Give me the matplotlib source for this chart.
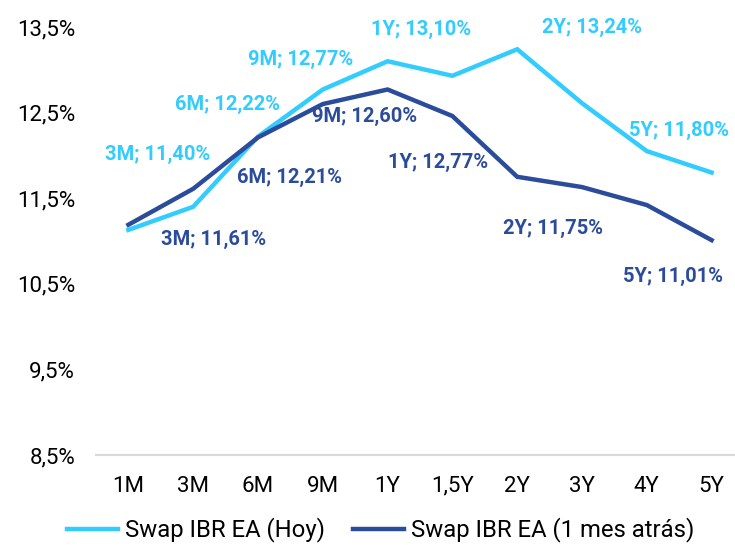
import numpy as np
import matplotlib
matplotlib.use("Agg")
import matplotlib.pyplot as plt

# curva swap IBR: hoy vs un mes atras
plazos = ["1M", "3M", "6M", "9M", "1Y", "1,5Y", "2Y", "3Y", "4Y", "5Y"]
swap_hoy = [11.13, 11.40, 12.22, 12.77, 13.10, 12.93, 13.24, 12.61, 12.05, 11.80]
swap_mes = [11.19, 11.61, 12.21, 12.60, 12.77, 12.46, 11.75, 11.63, 11.42, 11.01]

yticks = [8.5, 9.5, 10.5, 11.5, 12.5, 13.5]

# etiquetas de datos (indice, texto, desplazamiento en pixeles)
etq_hoy = [(1, "3M; 11,40%", (-36, 52)), (2, "6M; 12,22%", (-31, 32)),
           (3, "9M; 12,77%", (-22, 30)), (4, "1Y; 13,10%", (33, 32)),
           (6, "2Y; 13,24%", (75, 22)), (9, "5Y; 11,80%", (-33, 42))]
etq_mes = [(1, "3M; 11,61%", (20, -51)), (2, "6M; 12,21%", (31, -40)),
           (3, "9M; 12,60%", (42, -12)), (4, "1Y; 12,77%", (50, -73)),
           (6, "2Y; 11,75%", (36, -52)), (9, "5Y; 11,01%", (-39, -36))]

c_hoy = "#33CCFF"
c_mes = "#2B4C9B"

plt.rcParams['font.family'] = ['Roboto', 'DejaVu Sans']

fig = plt.figure(figsize=(7.35, 5.46), dpi=100)
ax = fig.add_axes([96/735, 1-455/546, 648/735, 428/546])

x = np.arange(len(plazos))
ax.plot(x, swap_hoy, color=c_hoy, lw=3.2, label="Swap IBR EA (Hoy)", solid_joinstyle="miter")
ax.plot(x, swap_mes, color=c_mes, lw=3.2, label="Swap IBR EA (1 mes atrás)", solid_joinstyle="miter")

for i, t, off in etq_hoy:
	ax.annotate(t, (x[i], swap_hoy[i]), xytext=off, textcoords="offset pixels",
		ha="center", va="center", color=c_hoy, fontsize=14.5, fontweight="bold")
for i, t, off in etq_mes:
	ax.annotate(t, (x[i], swap_mes[i]), xytext=off, textcoords="offset pixels",
		ha="center", va="center", color=c_mes, fontsize=14.5, fontweight="bold")

ax.set_xlim(-0.5, len(plazos)-0.5)
ax.set_ylim(8.5, 13.5)
ax.set_yticks(yticks)
ax.set_yticklabels([("%.1f%%" % v).replace(".", ",") for v in yticks])
ax.set_xticks(x)
ax.set_xticklabels(plazos)
ax.tick_params(axis="y", length=0, pad=15, labelsize=16)
ax.tick_params(axis="x", length=0, pad=15, labelsize=16)

for s in ["top", "right", "left"]:
	ax.spines[s].set_visible(False)
ax.spines["bottom"].set_color("#D9D9D9")
ax.spines["bottom"].set_linewidth(1.5)

fig.legend(loc="center", bbox_to_anchor=(0.518, 1-530/546), ncol=2, frameon=False,
	fontsize=17.2, handlelength=2.1, handletextpad=0.3, columnspacing=1.2)

fig.savefig("out.png", dpi=100)
